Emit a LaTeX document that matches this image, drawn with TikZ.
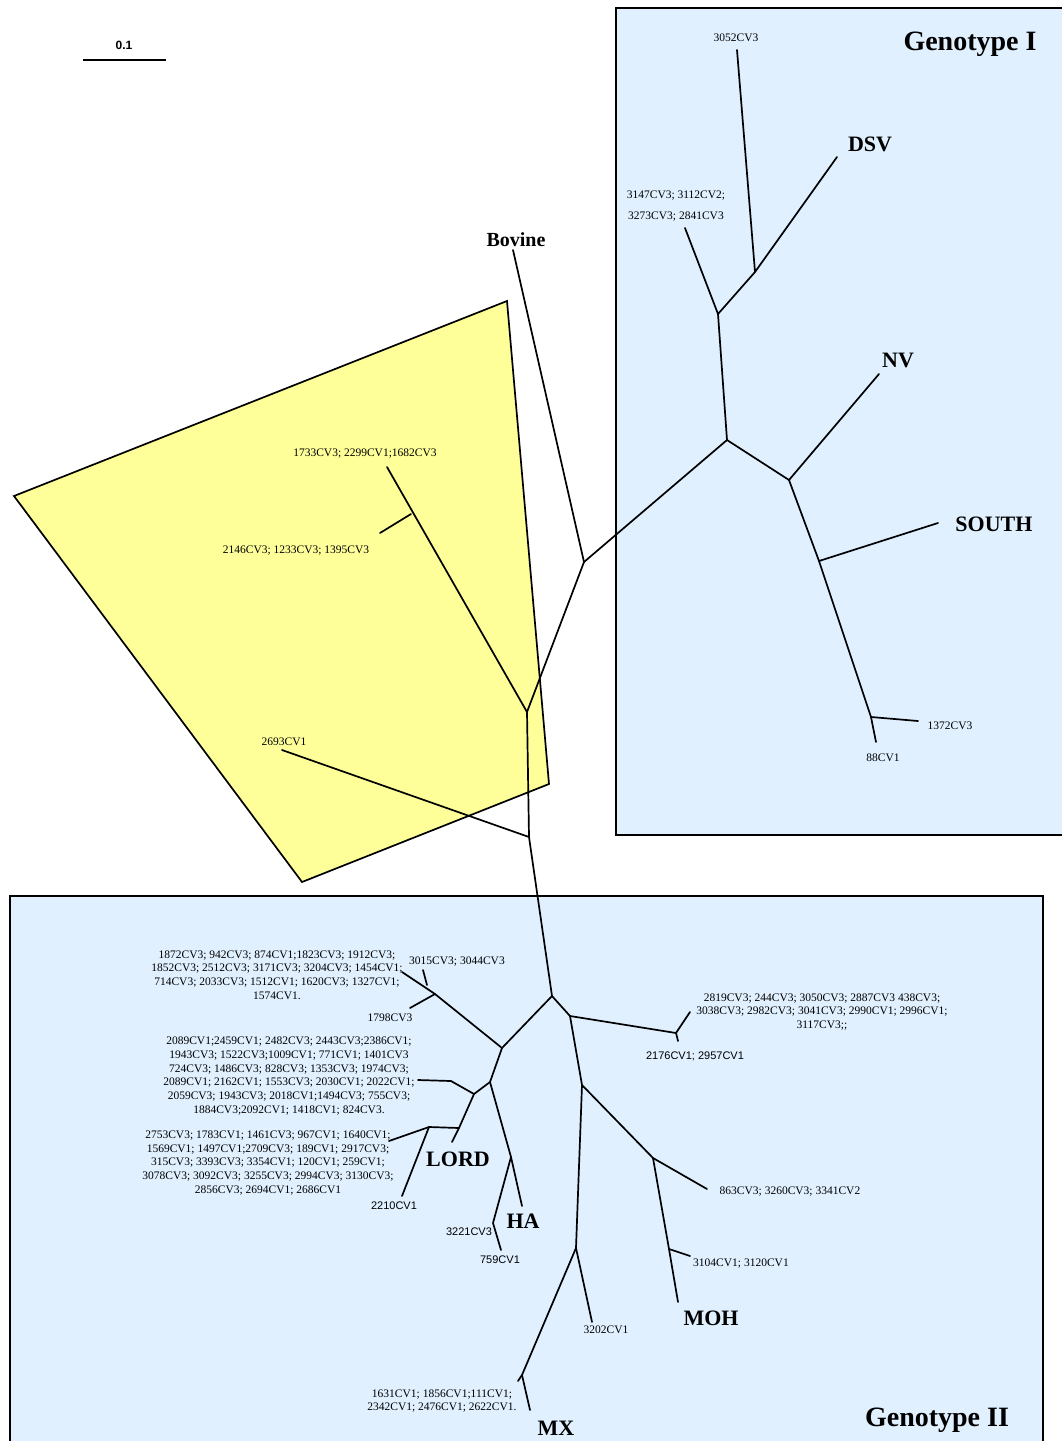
\documentclass[tikz,border=0pt]{standalone}
\usepackage{fontspec}
\setmainfont{Liberation Serif}
\setsansfont{Liberation Sans}
\definecolor{gblue}{RGB}{224,240,255}
\definecolor{gyel}{RGB}{255,255,153}
\begin{document}
\begin{tikzpicture}[x=1pt,y=-1pt,
 br/.style={line width=1.7pt, line cap=round, line join=round},
 boxline/.style={line width=1.7pt},
 sm/.style={font=\fontsize{11.5}{13.7}\selectfont, inner sep=0pt, align=center},
 ss/.style={font=\sffamily\fontsize{11}{13}\selectfont, inner sep=0pt},
 big/.style={font=\bfseries\fontsize{22}{24}\selectfont, inner sep=0pt},
 geno/.style={font=\bfseries\fontsize{28}{30}\selectfont, inner sep=0pt}]
\useasboundingbox (0,0) rectangle (1061,1441);
\fill[white] (0,0) rectangle (1061,1441);
% group boxes
\draw[boxline, fill=gblue] (616,8) rectangle (1070,835);
\draw[boxline, fill=gblue] (10,896) rectangle (1043,1452);
\draw[boxline, fill=gyel] (14,496) -- (507,301) -- (549,784) -- (302,882) -- cycle;
% scale bar
\node[font=\sffamily\bfseries\fontsize{12}{14}\selectfont, inner sep=0pt] (scl) at (124,45) {0.1};
\coordinate (sa) at (83,60); \coordinate (sb) at (166,60);
\draw[line width=1.7pt] (sa) -- (sb);
% coordinates: Genotype I
\coordinate (a3052) at (737,50);
\coordinate (aDSV) at (837,157);
\coordinate (j1) at (755,272);
\coordinate (j2) at (718,314);
\coordinate (a3147) at (685,228);
\coordinate (j3) at (727,440);
\coordinate (c0) at (584,562);
\coordinate (j4) at (789,480);
\coordinate (aNV) at (879,374);
\coordinate (j5) at (819,561);
\coordinate (aSOUTH) at (938,523);
\coordinate (j6) at (871,717);
\coordinate (a1372) at (918,721);
\coordinate (a88) at (876,742);
\coordinate (aBov) at (513,250);
% central / yellow
\coordinate (c1) at (527,712);
\coordinate (a1733) at (387,467);
\coordinate (a2146) at (380,533);
\coordinate (m2146) at (411,514);
\coordinate (c2) at (529,837);
\coordinate (a2693) at (282,750);
\coordinate (c3) at (552,996);
% Genotype II
\coordinate (b1) at (502,1048);
\coordinate (b2) at (435,994);
\coordinate (a1872) at (402,972);
\coordinate (m3015) at (427,985);
\coordinate (a3015) at (423,970);
\coordinate (a1798) at (410,1008);
\coordinate (b3) at (490,1082);
\coordinate (b4) at (474,1094);
\coordinate (b4a) at (451,1081);
\coordinate (a2089) at (418,1080);
\coordinate (b5) at (459,1128);
\coordinate (aLORD) at (452,1142);
\coordinate (b6) at (429,1127);
\coordinate (a2753) at (389,1141);
\coordinate (a2210) at (402,1196);
\coordinate (b7) at (511,1157);
\coordinate (aHA) at (522,1206);
\coordinate (b8) at (493,1223);
\coordinate (a759) at (501,1250);
\coordinate (d1) at (570,1016);
\coordinate (d2) at (676,1033);
\coordinate (a2819) at (690,1012);
\coordinate (a2176) at (678,1041);
\coordinate (d3) at (582,1085);
\coordinate (d4) at (653,1158);
\coordinate (a863) at (707,1189);
\coordinate (d5) at (669,1249);
\coordinate (a3104) at (690,1256);
\coordinate (aMOH) at (678,1302);
\coordinate (d6) at (576,1248);
\coordinate (a3202) at (592,1322);
\coordinate (d7) at (522,1375);
\coordinate (aMX) at (530,1410);
\coordinate (t1631) at (518,1381);
% branches
\draw[br] (a3052) -- (j1) -- (aDSV);
\draw[br] (j1) -- (j2) -- (a3147);
\draw[br] (j2) -- (j3) -- (c0);
\draw[br] (j3) -- (j4) -- (aNV);
\draw[br] (j4) -- (j5) -- (aSOUTH);
\draw[br] (j5) -- (j6) -- (a1372);
\draw[br] (j6) -- (a88);
\draw[br] (aBov) -- (c0) -- (c1);
\draw[br] (a1733) -- (c1);
\draw[br] (a2146) -- (m2146);
\draw[br] (c1) -- (c2) -- (a2693);
\draw[br] (c2) -- (c3);
\draw[br] (c3) -- (b1) -- (b2) -- (a1872);
\draw[br] (a3015) -- (m3015);
\draw[br] (b2) -- (a1798);
\draw[br] (b1) -- (b3) -- (b4) -- (b4a) -- (a2089);
\draw[br] (b4) -- (b5) -- (aLORD);
\draw[br] (b5) -- (b6) -- (a2753);
\draw[br] (b6) -- (a2210);
\draw[br] (b3) -- (b7) -- (aHA);
\draw[br] (b7) -- (b8) -- (a759);
\draw[br] (c3) -- (d1) -- (d2) -- (a2819);
\draw[br] (d2) -- (a2176);
\draw[br] (d1) -- (d3) -- (d4) -- (a863);
\draw[br] (d4) -- (d5) -- (a3104);
\draw[br] (d5) -- (aMOH);
\draw[br] (d3) -- (d6) -- (a3202);
\draw[br] (d6) -- (d7) -- (aMX);
\draw[br] (d7) -- (t1631);
% labels
\node[geno] (gI) at (970,44) {Genotype I};
\node[geno] (gII) at (937,1420) {Genotype II};
\node[sm] (l3052) at (736,38) {3052CV3};
\node[big] (lDSV) at (870,144) {DSV};
\node[sm] (l3147) at (676,206) {3147CV3; 3112CV2;\\[7pt]3273CV3; 2841CV3};
\node[big, font=\bfseries\fontsize{20}{22}\selectfont] (lBov) at (516,240) {Bovine};
\node[big] (lNV) at (898,360) {NV};
\node[big] (lSOUTH) at (994,524) {SOUTH};
\node[sm] (l1372) at (950,726) {1372CV3};
\node[sm] (l88) at (883,758) {88CV1};
\node[sm] (l1733) at (365,454) {1733CV3; 2299CV1;1682CV3};
\node[sm] (l2146) at (296,551) {2146CV3; 1233CV3; 1395CV3};
\node[sm] (l2693) at (284,742) {2693CV1};
\node[sm] (l1872) at (277,975) {1872CV3; 942CV3; 874CV1;1823CV3; 1912CV3;\\1852CV3; 2512CV3; 3171CV3; 3204CV3; 1454CV1;\\714CV3; 2033CV3; 1512CV1; 1620CV3; 1327CV1;\\1574CV1.};
\node[sm] (l3015) at (457,962) {3015CV3; 3044CV3};
\node[sm] (l1798) at (390,1018) {1798CV3};
\node[sm] (l2819) at (822,1012) {2819CV3; 244CV3; 3050CV3; 2887CV3 438CV3;\\3038CV3; 2982CV3; 3041CV3; 2990CV1; 2996CV1;\\3117CV3;;};
\node[ss] (l2176) at (695,1056) {2176CV1; 2957CV1};
\node[sm] (l2089) at (289,1076) {2089CV1;2459CV1; 2482CV3; 2443CV3;2386CV1;\\1943CV3; 1522CV3;1009CV1; 771CV1; 1401CV3\\724CV3; 1486CV3; 828CV3; 1353CV3; 1974CV3;\\2089CV1; 2162CV1; 1553CV3; 2030CV1; 2022CV1;\\2059CV3; 1943CV3; 2018CV1;1494CV3; 755CV3;\\1884CV3;2092CV1; 1418CV1; 824CV3.};
\node[sm] (l2753) at (268,1163) {2753CV3; 1783CV1; 1461CV3; 967CV1; 1640CV1;\\1569CV1; 1497CV1;2709CV3; 189CV1; 2917CV3;\\315CV3; 3393CV3; 3354CV1; 120CV1; 259CV1;\\3078CV3; 3092CV3; 3255CV3; 2994CV3; 3130CV3;\\2856CV3; 2694CV1; 2686CV1};
\node[big] (lLORD) at (458,1159) {LORD};
\node[ss] (l2210) at (394,1206) {2210CV1};
\node[big] (lHA) at (523,1221) {HA};
\node[ss] (l3221) at (469,1232) {3221CV3};
\node[ss] (l759) at (500,1260) {759CV1};
\node[sm] (l863) at (790,1192) {863CV3; 3260CV3; 3341CV2};
\node[sm] (l3104) at (741,1264) {3104CV1; 3120CV1};
\node[big] (lMOH) at (711,1318) {MOH};
\node[sm] (l3202) at (606,1330) {3202CV1};
\node[sm] (l1631) at (442,1401) {1631CV1; 1856CV1;111CV1;\\2342CV1; 2476CV1; 2622CV1.};
\node[big] (lMX) at (556,1428) {MX};
\end{tikzpicture}
\end{document}
